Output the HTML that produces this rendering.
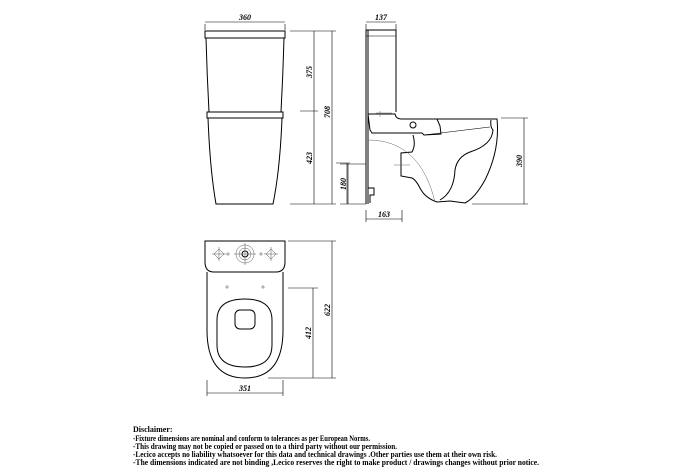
<!DOCTYPE html>
<html><head><meta charset="utf-8"><style>
html,body{margin:0;padding:0;background:#fff;}
svg{display:block;}
text{font-family:"Liberation Serif",serif;font-style:italic;font-weight:bold;fill:#000;}
.d{font-style:normal;font-size:8px;}
</style></head><body>
<svg width="682" height="475" viewBox="0 0 682 475" xmlns="http://www.w3.org/2000/svg">
<g fill="none" stroke="#000" stroke-width="1">
<!-- FRONT VIEW -->
<path d="M205,31 L285,31 L285,38 L205,38 Z"/>
<path d="M206,38 Q207,75 209,112 M284,38 Q283,75 281,112"/>
<path d="M207,112 L283,112 L283,118 L207,118 Z"/>
<path d="M208,118 Q210,170 216,204 L273,204 Q280,170 282,118"/>
<g stroke-width="0.6">
<path d="M205,24 V30 M285,24 V30 M205,22 H285"/>
<path d="M290,31 H336 M290,204 H336 M300,111 H318"/>
<path d="M314,31 V204 M332,31 V204"/>
<path d="M336,163 H350 M347,163 V204"/>
</g>
<!-- SIDE VIEW -->
<path d="M366,30 H396 V112 M366,30 V204 M368,30 V204" />
<path d="M366,36 H396" stroke-width="0.6"/>
<path d="M368,114 H395 Q396,119 401,119 H437 L440,126 L441,134 L424,135 L422,133 L372,133 L370,130 Z"/>
<circle cx="413" cy="125" r="3"/>
<path d="M437,119 H497 Q500,150 485,180 Q475,198 465,203 L450,201 L437,202 Q425,198 420,188 Q416,180 412,178 L401,176 L401,153 L412,152 Q416,145 413,135"/>
<path d="M491,120 Q490,127 493,130 Q492,145 470,152 Q457,157 455,170 Q454,192 440,200"/>
<path d="M424,135 L490,127" stroke-width="0.6"/>
<path d="M368,188 H374 V195 H370 V203" />
<g stroke-width="0.5" stroke="#666">
<path d="M368,140 Q420,140 435,202"/>
<path d="M394,165 H410 M380,111 V117 M376,113 H392"/>
</g>
<g stroke-width="0.6">
<path d="M366,22 H396 M366,24 V30 M396,24 V30"/>
<path d="M340,164 H366 M348,164 V204 M340,204 H366"/>
<path d="M501,118 H528 M500,204 H528 M524,118 V204 M472,204 H500"/>
<path d="M366,210 V222 M402,210 V222 M366,219 H402"/>
</g>
<!-- PLAN VIEW -->
<path d="M205,241 H285 V262 Q285,272 276,272 H214 Q205,272 205,262 Z"/>
<path d="M207,272 V330 Q207,378 245,378 Q283,378 283,330 V272"/>
<path d="M245,299 Q272,299 272,320 V345 Q272,367 245,367 Q217,367 217,345 V320 Q217,299 245,299 Z"/>
<rect x="235" y="310" width="20" height="19" rx="5"/>
<circle cx="245" cy="254" r="3"/>
<g stroke-width="0.5" stroke="#555">
<circle cx="245" cy="254" r="6"/><circle cx="245" cy="254" r="9"/>
<path d="M245,243 V265 M234,254 H256"/>
<path d="M214,254 l5,-5 l5,5 l-5,5 z M266,254 l5,-5 l5,5 l-5,5 z M219,247 V261 M212,254 H226 M271,247 V261 M264,254 H278"/>
<path d="M226,254 h4 M228,252 v4 M259,254 h4 M261,252 v4 M225,287 h4 M227,285 v4 M261,287 h4 M263,285 v4"/>
</g>
<g stroke-width="0.6">
<path d="M288,241 H336 M332,241 V378 M268,378 H336"/>
<path d="M288,288 H318 M313,288 V378"/>
<path d="M207,380 V396 M283,380 V396 M207,393 H283"/>
</g>
</g>
<text x="245" y="20" font-size="8" text-anchor="middle">360</text>
<text x="381" y="20" font-size="8" text-anchor="middle">137</text>
<text x="384" y="217" font-size="8" text-anchor="middle">163</text>
<text x="245" y="391" font-size="8" text-anchor="middle">351</text>
<text transform="translate(312,72) rotate(-90)" font-size="8" text-anchor="middle">375</text>
<text transform="translate(312,158) rotate(-90)" font-size="8" text-anchor="middle">423</text>
<text transform="translate(330,112) rotate(-90)" font-size="8" text-anchor="middle">708</text>
<text transform="translate(346,184) rotate(-90)" font-size="8" text-anchor="middle">180</text>
<text transform="translate(522,161) rotate(-90)" font-size="8" text-anchor="middle">390</text>
<text transform="translate(330,310) rotate(-90)" font-size="8" text-anchor="middle">622</text>
<text transform="translate(311,333) rotate(-90)" font-size="8" text-anchor="middle">412</text>
<text class="d" x="133" y="432">Disclaimer:</text>
<text class="d" x="133" y="441" textLength="237" lengthAdjust="spacingAndGlyphs">-Fixture dimensions are nominal and conform to tolerances as per European Norms.</text>
<text class="d" x="133" y="449" textLength="264" lengthAdjust="spacingAndGlyphs">-This drawing may not be copied or passed on to a third party without our permission.</text>
<text class="d" x="133" y="457" textLength="364" lengthAdjust="spacingAndGlyphs">-Lecico accepts no liability whatsoever for this data and technical drawings .Other parties use them at their own risk.</text>
<text class="d" x="133" y="465" textLength="406" lengthAdjust="spacingAndGlyphs">-The dimensions indicated are not binding ,Lecico reserves the right to make product / drawings changes without prior notice.</text>
</svg>
</body></html>
